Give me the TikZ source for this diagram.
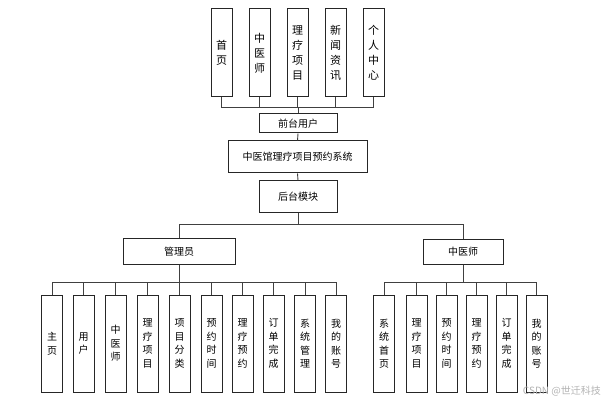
\documentclass[tikz,border=0pt]{standalone}
\usepackage{fontspec}
\newfontfamily\cjk{Noto Sans CJK SC}
\begin{document}
\begin{tikzpicture}[x=1pt,y=-1pt,
  box/.style={draw=black!85,line width=1pt,inner sep=0pt,font=\cjk\fontsize{10}{13.5}\selectfont,align=center,fill=white},
  vbox/.style={box,minimum width=21pt,minimum height=97pt},
  tbox/.style={box,minimum width=21pt,minimum height=88pt,font=\cjk\fontsize{11}{15}\selectfont},
  link/.style={draw=black!75,line width=0.9pt}]
\useasboundingbox (0,0) rectangle (607,403);
% top
\node[tbox] (t1) at (221.5,53) {首\\页};
\node[tbox] (t2) at (259.5,53) {中\\医\\师};
\node[tbox] (t3) at (297.5,53) {理\\疗\\项\\目};
\node[tbox] (t4) at (335.5,53) {新\\闻\\资\\讯};
\node[tbox] (t5) at (373.5,53) {个\\人\\中\\心};
\node[box,minimum width=78pt,minimum height=19pt] (fu) at (298,123.5) {前台用户};
\node[box,minimum width=139pt,minimum height=32pt] (sys) at (297.5,157) {中医馆理疗项目预约系统};
\node[box,minimum width=78pt,minimum height=32pt] (ht) at (298,197) {后台模块};
\node[box,minimum width=112pt,minimum height=25pt] (gl) at (179,251.5) {管理员};
\node[box,minimum width=80pt,minimum height=24pt] (zy) at (463,252) {中医师};
% admin children
\node[vbox] (a1) at (52,343.5) {主\\页};
\node[vbox] (a2) at (83.5,343.5) {用\\户};
\node[vbox] (a3) at (115.5,343.5) {中\\医\\师};
\node[vbox] (a4) at (147.5,343.5) {理\\疗\\项\\目};
\node[vbox] (a5) at (179.5,343.5) {项\\目\\分\\类};
\node[vbox] (a6) at (211.5,343.5) {预\\约\\时\\间};
\node[vbox] (a7) at (242.5,343.5) {理\\疗\\预\\约};
\node[vbox] (a8) at (273.5,343.5) {订\\单\\完\\成};
\node[vbox] (a9) at (305,343.5) {系\\统\\管\\理};
\node[vbox] (a10) at (336,343.5) {我\\的\\账\\号};
% doctor children
\node[vbox] (d1) at (384,343.5) {系\\统\\首\\页};
\node[vbox] (d2) at (416.5,343.5) {理\\疗\\项\\目};
\node[vbox] (d3) at (446.5,343.5) {预\\约\\时\\间};
\node[vbox] (d4) at (476.5,343.5) {理\\疗\\预\\约};
\node[vbox] (d5) at (506.5,343.5) {订\\单\\完\\成};
\node[vbox] (d6) at (536.5,343.5) {我\\的\\账\\号};
% connectors
\coordinate (b1) at (298,107);
\foreach \n in {t1,t2,t3,t4,t5} \draw[link] (\n.south) |- (b1) -- (fu.north);
\draw[link] (fu.south) -- (sys.north);
\draw[link] (sys.south) -- (ht.north);
\draw[link] (ht.south) -- ++(0,11) -| (gl.north);
\draw[link] (ht.south) -- ++(0,11) -| (zy.north);
\foreach \n in {a1,a2,a3,a4,a5,a6,a7,a8,a9,a10} \draw[link] (gl.south) -- ++(0,18) -| (\n.north);
\foreach \n in {d1,d2,d3,d4,d5,d6} \draw[link] (zy.south) -- ++(0,18) -| (\n.north);
% watermark
\node[font=\cjk\fontsize{10}{12}\selectfont,text=black!30,anchor=east,inner sep=0pt] (wm) at (601,391) {CSDN @世迁科技};
\end{tikzpicture}
\end{document}
